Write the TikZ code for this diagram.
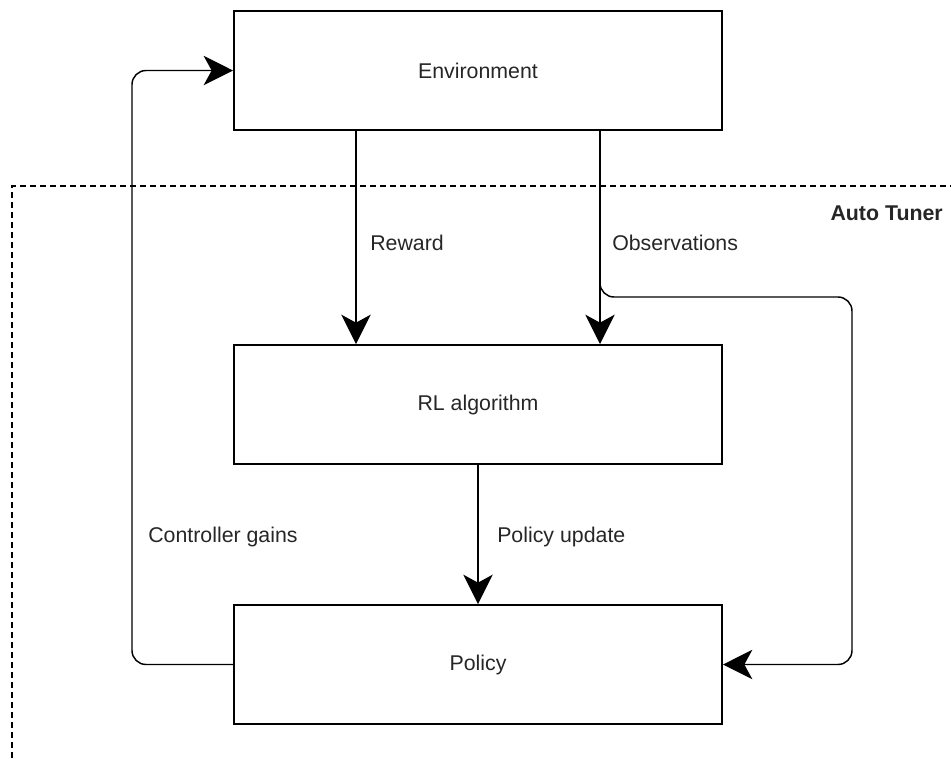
\documentclass[tikz,border=0pt]{standalone}
\usepackage{fontspec}
\setmainfont{Liberation Sans}
\usetikzlibrary{arrows.meta,positioning,calc}

\tikzset{
	block/.style={draw, line width=1.5pt, minimum width=366pt, minimum height=89.25pt, font=\fontsize{16}{19}\selectfont, text=black!85},
	flow/.style={line width=1.1pt, -{Stealth[length=22pt, width=22pt, inset=6pt]}},
	lbl/.style={anchor=west, inner sep=0pt, font=\fontsize{16}{19}\selectfont, text=black!85},
}

\begin{document}
\begin{tikzpicture}[x=0.75pt,y=0.75pt,yscale=-1,xscale=1]
		\useasboundingbox (0,0) rectangle (951,758);
		
		%Auto tuner frame
		\draw [line width=1.1pt, dash pattern={on 4.5pt off 3pt}] (12,758) -- (12,186) -- (951,186);
		\node (tuner) [anchor=east, inner sep=0pt, font=\fontsize{16}{19}\selectfont\bfseries, text=black!85] at (943,213) {Auto Tuner};
		
		%Blocks
		\node (env) [block] at (478,70.5) {Environment};
		\node (rl) [block] at (478,404.5) {RL algorithm};
		\node (policy) [block] at (478,664.5) {Policy};
		
		%Connectors
		\draw [flow] ([xshift=-91.5pt]env.south) -- ([xshift=-91.5pt]rl.north);
		\draw [flow] ([xshift=91.5pt]env.south) -- ([xshift=91.5pt]rl.north);
		\draw [flow] (rl.south) -- (policy.north);
		\coordinate (split) at (600,297);
		\coordinate (obsturn) at (852,297);
		\coordinate (gainturn) at (132,400);
		\draw [flow, rounded corners=10.5pt] ($(split)+(0,-20)$) -- (split) -- (obsturn) |- (policy.east);
		\draw [flow, rounded corners=10.5pt] (policy.west) -| (gainturn) |- (env.west);
		
		% Text Node
		\node (reward) [lbl] at (370,243) {Reward};
		% Text Node
		\node (obs) [lbl] at (612,243) {Observations};
		% Text Node
		\node (update) [lbl] at (497,537) {Policy update};
		% Text Node
		\node (gains) [lbl] at (148,537) {Controller gains};
		
\end{tikzpicture}
\end{document}
